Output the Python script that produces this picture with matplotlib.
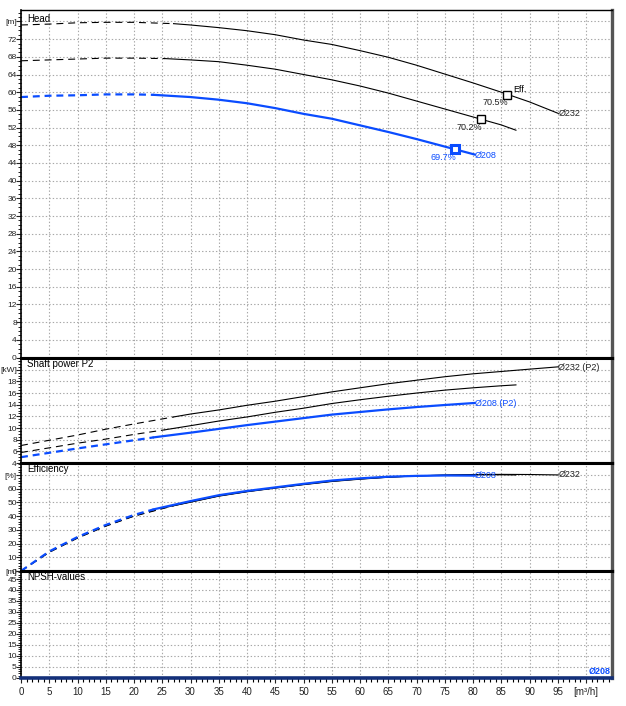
import matplotlib
matplotlib.use("Agg")
import matplotlib.pyplot as plt
from matplotlib.ticker import MultipleLocator

plt.rcParams['font.family'] = ['Liberation Sans', 'DejaVu Sans']
plt.rcParams['lines.scale_dashes'] = False

BLUE = '#0a4cff'

# flow points [m3/h], index 5 is where the dashed part stops
q_232 = [0, 5, 10, 15, 20, 27, 30, 35, 40, 45, 50, 55, 60, 65, 70, 75, 80, 85, 90, 95.1]
q_220 = [0, 5, 10, 15, 20, 25.5, 30, 35, 40, 45, 50, 55, 60, 65, 70, 75, 80, 85, 87.6]
q_208 = [0, 5, 10, 15, 20, 23.5, 30, 35, 40, 45, 50, 55, 60, 65, 70, 75, 80.3]

# head [m]
head_232 = [75.2, 75.4, 75.7, 75.8, 75.8, 75.5, 75.2, 74.6, 73.9, 73.0, 71.8, 70.8, 69.4, 67.9, 66.1, 64.1, 62.1, 60.0, 57.8, 55.2]
head_220 = [67.1, 67.3, 67.5, 67.7, 67.7, 67.6, 67.3, 66.9, 66.1, 65.2, 64.0, 62.8, 61.4, 59.8, 58.0, 56.2, 54.4, 52.6, 51.4]
head_208 = [58.9, 59.2, 59.3, 59.5, 59.5, 59.4, 58.9, 58.3, 57.5, 56.4, 55.1, 54.0, 52.5, 51.0, 49.4, 47.7, 45.9]

# shaft power P2 [kW]
p2_232 = [7.0, 7.9, 8.8, 9.8, 10.7, 11.9, 12.4, 13.1, 13.9, 14.6, 15.4, 16.2, 16.9, 17.6, 18.2, 18.8, 19.3, 19.7, 20.1, 20.5]
p2_220 = [5.8, 6.6, 7.4, 8.1, 8.9, 9.7, 10.4, 11.2, 11.9, 12.7, 13.4, 14.2, 14.85, 15.45, 16.0, 16.5, 16.9, 17.25, 17.4]
p2_208 = [5.0, 5.75, 6.5, 7.2, 7.9, 8.4, 9.2, 9.85, 10.5, 11.1, 11.7, 12.3, 12.75, 13.2, 13.6, 13.95, 14.3]

# efficiency [%]
eff_232 = [0, 13.6, 24.0, 32.7, 40.0, 47.6, 50.2, 54.6, 57.8, 60.5, 63.0, 65.3, 67.0, 68.4, 69.4, 70.0, 70.4, 70.5, 70.4, 70.1]
eff_220 = [0, 13.8, 24.2, 32.9, 40.2, 46.3, 50.4, 54.8, 58.0, 60.7, 63.2, 65.5, 67.2, 68.5, 69.4, 69.9, 70.2, 70.2, 70.1]
eff_208 = [0, 14.3, 24.8, 33.6, 40.9, 45.0, 51.0, 55.3, 58.4, 61.0, 63.6, 66.0, 67.6, 68.8, 69.4, 69.7, 69.6]

# best efficiency points
bep_q = [86.1, 81.4, 76.8]
bep_h = [59.4, 53.9, 47.1]
bep_txt = ['70.5%', '70.2%', '69.7%']

x_ticks = list(range(0, 100, 5))

W, H = 626, 706
fig = plt.figure(figsize=(W / 100, H / 100), dpi=100)


def box(top, bottom):
    return [21 / W, 1 - bottom / H, 591 / W, (bottom - top) / H]


def setup(ax, ylim, labels, unit, unit_at, minor, title):
    ax.set_xlim(0, 104.6)
    ax.set_ylim(*ylim)
    ax.set_xticks(x_ticks + [100])
    ax.xaxis.set_minor_locator(MultipleLocator(1))
    ax.set_yticks(labels + [unit_at], labels=[str(v) for v in labels] + [unit])
    ax.yaxis.set_minor_locator(MultipleLocator(minor))
    ax.grid(True, which='major', ls=(0, (1, 1.5)), color='#a8a8a8', lw=0.8)
    ax.tick_params(axis='y', which='major', length=3.5, width=0.8, labelsize=6, pad=-0.5, colors='#222')
    ax.tick_params(axis='y', which='minor', length=2, width=0.6)
    ax.tick_params(axis='x', which='both', length=0, labelbottom=False)
    ax.text(0.01, 0.988, title, transform=ax.transAxes, va='top', ha='left', fontsize=7)
    ax.spines['left'].set_linewidth(1.2)
    ax.spines['right'].set_color('#555555')
    ax.spines['right'].set_linewidth(2.4)
    ax.spines['top'].set_linewidth(2.2)
    ax.spines['bottom'].set_linewidth(2.2)
    ax.set_axisbelow(True)


def curve(ax, q, v, color, lw):
    ax.plot(q[:6], v[:6], color=color, lw=lw, dashes=(5, 3.5))
    ax.plot(q[5:], v[5:], color=color, lw=lw)


##### head #####
ax_h = fig.add_axes(box(9.5, 357.5))
setup(ax_h, (0, 78.7), list(range(0, 76, 4)), '[m]', 76, 1, 'Head')
ax_h.spines['top'].set_linewidth(1.0)
curve(ax_h, q_232, head_232, 'black', 0.8)
curve(ax_h, q_220, head_220, 'black', 0.8)
curve(ax_h, q_208, head_208, BLUE, 1.6)
ax_h.plot(bep_q[:2], bep_h[:2], 's', ms=6, mfc='white', mec='black', mew=1.0)
ax_h.plot(bep_q[2], bep_h[2], 's', ms=6, mfc='white', mec=BLUE, mew=2.2)
ax_h.text(bep_q[0] + 1.0, bep_h[0] + 0.3, 'Eff.', fontsize=6.5, va='bottom')
for q, h, t, c in zip(bep_q, bep_h, bep_txt, ['#222', '#222', BLUE]):
    ax_h.text(q + 0.2, h - 0.8, t, fontsize=6.5, ha='right', va='top', color=c)
ax_h.text(q_232[-1], head_232[-1], 'Ø232', fontsize=6.5, va='center', color='#222')
ax_h.text(q_208[-1], head_208[-1] - 0.3, 'Ø208', fontsize=6.5, va='center', color=BLUE)

##### shaft power #####
ax_p = fig.add_axes(box(357.5, 463))
setup(ax_p, (4, 22.1), list(range(4, 20, 2)), '[kW]', 20, 0.5, 'Shaft power P2')
curve(ax_p, q_232, p2_232, 'black', 0.8)
curve(ax_p, q_220, p2_220, 'black', 0.8)
curve(ax_p, q_208, p2_208, BLUE, 1.6)
ax_p.text(q_232[-1], p2_232[-1] - 0.2, 'Ø232 (P2)', fontsize=6.5, va='center', color='#222')
ax_p.text(q_208[-1], p2_208[-1] - 0.1, 'Ø208 (P2)', fontsize=6.5, va='center', color=BLUE)

##### efficiency #####
ax_e = fig.add_axes(box(463, 571))
setup(ax_e, (0, 78.8), list(range(0, 70, 10)), '[%]', 70, 2, 'Efficiency')
curve(ax_e, q_232, eff_232, 'black', 0.8)
curve(ax_e, q_220, eff_220, 'black', 0.8)
curve(ax_e, q_208, eff_208, BLUE, 1.6)
ax_e.text(q_232[-1], eff_232[-1], 'Ø232', fontsize=6.5, va='center', color='#222')
ax_e.text(q_208[-1], eff_208[-1], 'Ø208', fontsize=6.5, va='center', color=BLUE)

##### NPSH #####
ax_n = fig.add_axes(box(571, 677.7))
setup(ax_n, (0, 48.65), list(range(0, 50, 5)), '[m]', 48.65, 1, 'NPSH-values')
ax_n.spines['bottom'].set_color('#14307a')
ax_n.spines['bottom'].set_linewidth(2.6)
ax_n.tick_params(axis='x', which='major', length=3.5, width=0.8, labelbottom=True,
                 labelsize=7, pad=3, colors='#222')
ax_n.tick_params(axis='x', which='minor', length=3, width=0.8)
ax_n.set_xticklabels([str(v) for v in x_ticks] + ['[m³/h]'])
ax_n.text(104.4, 0.8, 'Ø208', fontsize=6.5, ha='right', va='bottom', color=BLUE, fontweight='bold')

fig.savefig('out.png', dpi=100)
